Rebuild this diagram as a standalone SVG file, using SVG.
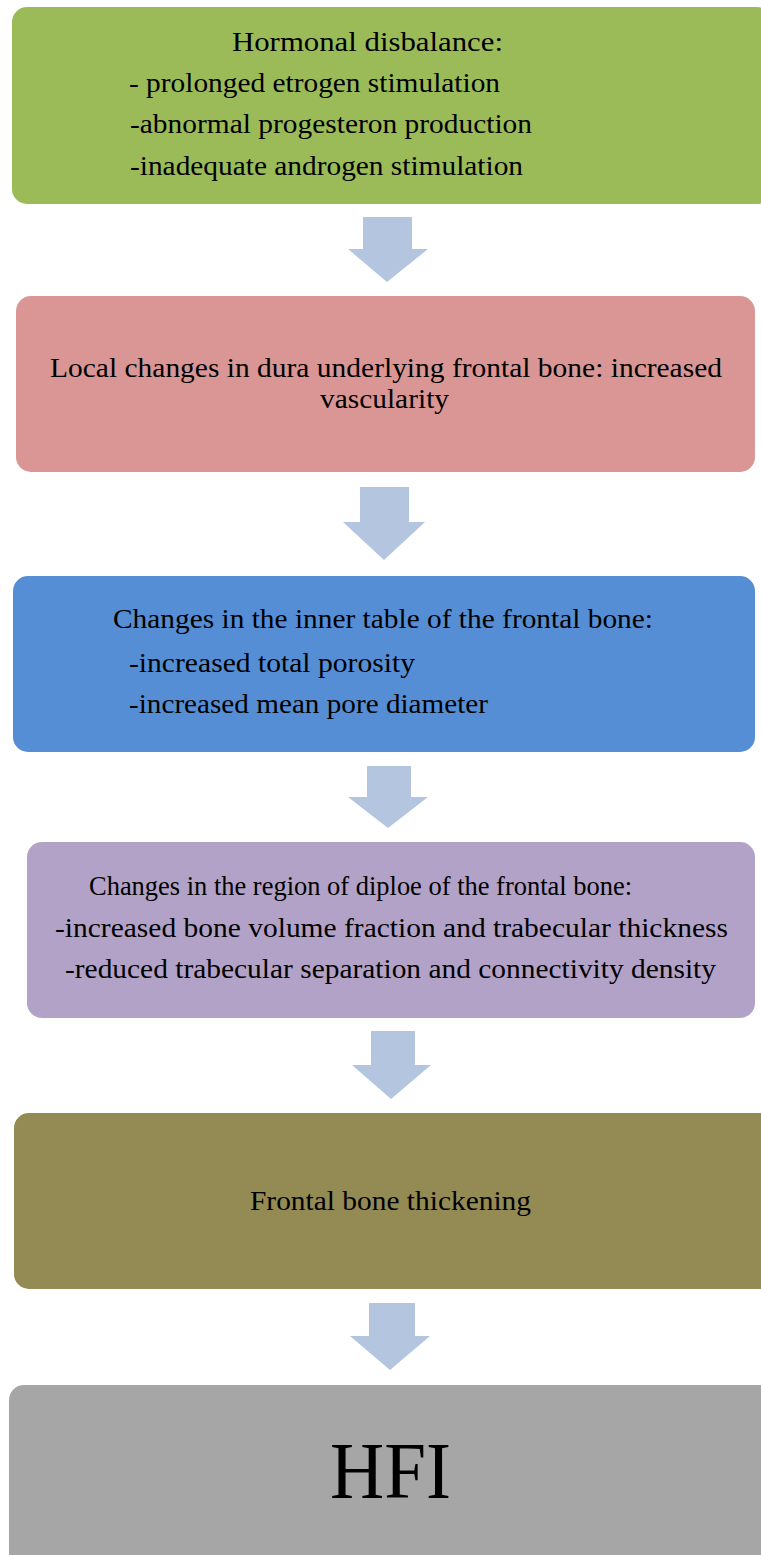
<svg xmlns="http://www.w3.org/2000/svg" width="761" height="1555" viewBox="0 0 761 1555">
<style>
text{font-family:"Liberation Serif","Times New Roman",serif;font-size:28px;fill:#000}
.big{font-size:80px}
.arrow{fill:#B3C5DF}
</style>
<rect width="761" height="1555" fill="#fff"/>
<g id="connectors">
<polygon class="arrow" points="363,217 412,217 412,249 428,249 387,282 348,249 363,249"/>
<polygon class="arrow" points="360,487 409,487 409,522 425,522 384,560 343,522 360,522"/>
<polygon class="arrow" points="367,766 411,766 411,797 428,797 388,828 348,797 367,797"/>
<polygon class="arrow" points="371,1031 415,1031 415,1065 431,1065 391,1099 352,1065 371,1065"/>
<polygon class="arrow" points="369,1303 415,1303 415,1336 430,1336 390,1370 350,1336 369,1336"/>
</g>
<g id="node1">
<rect x="12" y="7" width="760" height="197" rx="15" fill="#9BBB59"/>
<text x="232" y="51" textLength="271" lengthAdjust="spacingAndGlyphs">Hormonal disbalance:</text>
<text x="129" y="92" textLength="371" lengthAdjust="spacingAndGlyphs">- prolonged etrogen stimulation</text>
<text x="130" y="133" textLength="402" lengthAdjust="spacingAndGlyphs">-abnormal progesteron production</text>
<text x="130" y="175" textLength="393" lengthAdjust="spacingAndGlyphs">-inadequate androgen stimulation</text>
</g>
<g id="node2">
<rect x="16" y="296" width="739" height="176" rx="15" fill="#D99694"/>
<text x="50" y="377" textLength="672" lengthAdjust="spacingAndGlyphs">Local changes in dura underlying frontal bone: increased</text>
<text x="320" y="408" textLength="129" lengthAdjust="spacingAndGlyphs">vascularity</text>
</g>
<g id="node3">
<rect x="13" y="576" width="742" height="176" rx="15" fill="#558ED5"/>
<text x="113" y="628" textLength="540" lengthAdjust="spacingAndGlyphs">Changes in the inner table of the frontal bone:</text>
<text x="129" y="672" textLength="286" lengthAdjust="spacingAndGlyphs">-increased total porosity</text>
<text x="129" y="713" textLength="359" lengthAdjust="spacingAndGlyphs">-increased mean pore diameter</text>
</g>
<g id="node4">
<rect x="27" y="842" width="728" height="176" rx="15" fill="#B3A2C7"/>
<text x="89" y="895" textLength="543" lengthAdjust="spacingAndGlyphs">Changes in the region of diploe of the frontal bone:</text>
<text x="55" y="937" textLength="673" lengthAdjust="spacingAndGlyphs">-increased bone volume fraction and trabecular thickness</text>
<text x="65" y="978" textLength="651" lengthAdjust="spacingAndGlyphs">-reduced trabecular separation and connectivity density</text>
</g>
<g id="node5">
<rect x="14" y="1113" width="760" height="176" rx="15" fill="#948A54"/>
<text x="250" y="1210" textLength="281" lengthAdjust="spacingAndGlyphs">Frontal bone thickening</text>
</g>
<g id="node6">
<rect x="9" y="1385" width="765" height="190" rx="15" fill="#A6A6A6"/>
<text class="big" x="330" y="1498" textLength="121" lengthAdjust="spacingAndGlyphs">HFI</text>
</g>
</svg>
